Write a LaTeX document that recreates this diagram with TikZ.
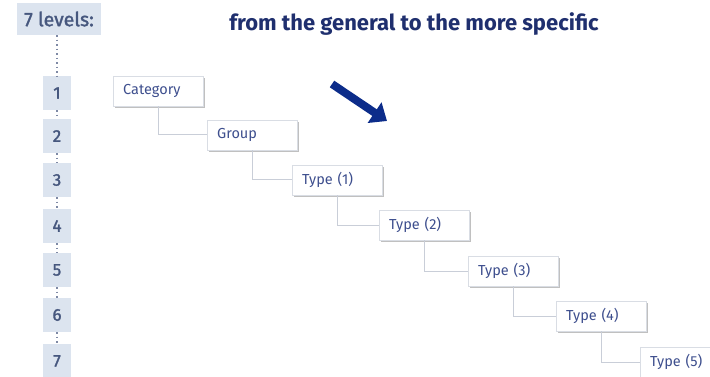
\documentclass[tikz,border=0pt]{standalone}
\usepackage{fontspec}
\setmainfont{Fira Sans}
\newfontfamily\levelfont[FakeBold=1.6]{Fira Sans}
\usetikzlibrary{arrows.meta,shadows}
\definecolor{navy}{HTML}{1F2F6E}
\definecolor{boxtext}{HTML}{3E4F8E}
\definecolor{levelfill}{HTML}{DCE4EF}
\definecolor{leveltext}{HTML}{46577E}
\definecolor{linkgray}{HTML}{C9CED8}
\definecolor{arrowblue}{HTML}{0C2C8A}
\tikzset{
  levelbox/.style={fill=levelfill, text=leveltext, minimum width=28pt, minimum height=34pt, inner sep=0pt, font=\levelfont\fontsize{17}{17}\selectfont},
  headbox/.style={fill=levelfill, text=leveltext, minimum width=84pt, minimum height=32pt, inner sep=0pt, font=\levelfont\fontsize{19.5}{19.5}\selectfont},
  itembox/.style={anchor=west, fill=white, draw=linkgray!70, line width=0.4pt, text=boxtext,
    text width=70pt, align=left, inner xsep=10pt, minimum height=30pt,
    font=\fontsize{14.5}{14.5}\selectfont,
    drop shadow={shadow xshift=1.6pt, shadow yshift=-1.8pt, opacity=0.45, fill=black!55}},
  link/.style={draw=linkgray, line width=1pt},
  dots/.style={draw=leveltext!70, line width=1.2pt, dash pattern=on 1.5pt off 3pt},
}
\begin{document}
\begin{tikzpicture}[x=1pt,y=-1pt]
  \useasboundingbox (0,0) rectangle (710,377);

  % title
  \node[text=navy, font=\bfseries\fontsize{22}{22}\selectfont, anchor=base] (title) at (414,31) {from the general to the more specific};

  % level column
  \node[headbox] (head) at (59,19) {7 levels:};
  \foreach \i/\y in {1/93,2/136,3/180,4/226,5/270,6/315,7/361}
    \node[levelbox] (l\i) at (57,\y) {\i};
  \draw[dots] (head.south -| l1.north) -- (l1.north);
  \foreach \a/\b in {1/2,2/3,3/4,4/5,5/6,6/7}
    \draw[dots] (l\a.south) -- (l\b.north);

  % hierarchy
  \node[itembox] (cat) at (113,91) {Category};
  \node[itembox] (grp) at (207,135) {Group};
  \node[itembox] (t1) at (292,180) {Type (1)};
  \node[itembox] (t2) at (379,225) {Type (2)};
  \node[itembox] (t3) at (468,271) {Type (3)};
  \node[itembox] (t4) at (556,316) {Type (4)};
  \node[itembox] (t5) at (640,362) {Type (5)};

  \draw[link] (cat.south) |- (grp.west);
  \draw[link] (grp.south) |- (t1.west);
  \draw[link] (t1.south) |- (t2.west);
  \draw[link] (t2.south) |- (t3.west);
  \draw[link] (t3.south) |- (t4.west);
  \draw[link] (t4.south) |- (t5.west);

  % direction arrow
  \coordinate (arrA) at (332,84);
  \coordinate (arrB) at (387,121);
  \draw[arrowblue, line width=8pt, -{Triangle[length=15pt, width=24pt]}] (arrA) -- (arrB);
\end{tikzpicture}
\end{document}
